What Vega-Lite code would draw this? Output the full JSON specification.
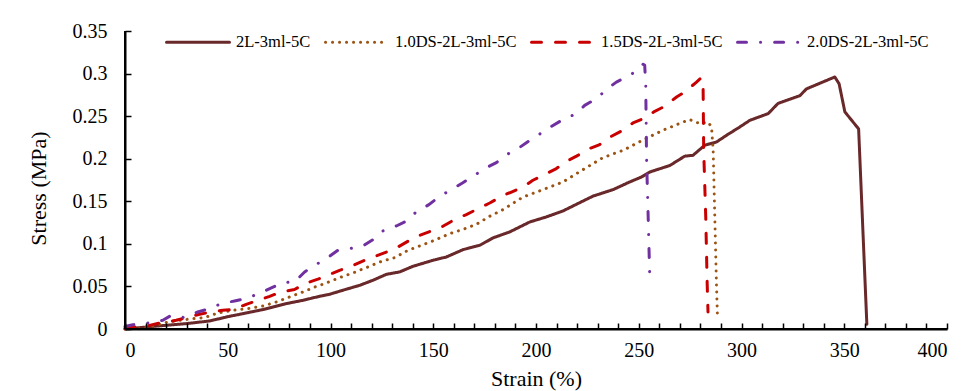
{
  "$schema": "https://vega.github.io/schema/vega-lite/v6.json",
  "autosize": "none",
  "width": 822,
  "height": 298,
  "padding": {"left": 125, "top": 31, "right": 24, "bottom": 62},
  "background": "white",
  "datasets": {
    "curves": [
      {"s": "2L-3ml-5C", "x": 0, "y": 0},
      {"s": "2L-3ml-5C", "x": 13.5, "y": 0.003},
      {"s": "2L-3ml-5C", "x": 29.8, "y": 0.0063},
      {"s": "2L-3ml-5C", "x": 41.1, "y": 0.0094},
      {"s": "2L-3ml-5C", "x": 50.9, "y": 0.0149},
      {"s": "2L-3ml-5C", "x": 59, "y": 0.0188},
      {"s": "2L-3ml-5C", "x": 67.1, "y": 0.0228},
      {"s": "2L-3ml-5C", "x": 78.5, "y": 0.0298},
      {"s": "2L-3ml-5C", "x": 86.6, "y": 0.0337},
      {"s": "2L-3ml-5C", "x": 94.7, "y": 0.0384},
      {"s": "2L-3ml-5C", "x": 99.6, "y": 0.0408},
      {"s": "2L-3ml-5C", "x": 106, "y": 0.0455},
      {"s": "2L-3ml-5C", "x": 114.2, "y": 0.0513},
      {"s": "2L-3ml-5C", "x": 120.6, "y": 0.0572},
      {"s": "2L-3ml-5C", "x": 127.2, "y": 0.0642},
      {"s": "2L-3ml-5C", "x": 133.6, "y": 0.067},
      {"s": "2L-3ml-5C", "x": 140.1, "y": 0.0736},
      {"s": "2L-3ml-5C", "x": 149.9, "y": 0.0807},
      {"s": "2L-3ml-5C", "x": 156.4, "y": 0.0846},
      {"s": "2L-3ml-5C", "x": 164.5, "y": 0.0932},
      {"s": "2L-3ml-5C", "x": 172.6, "y": 0.0983},
      {"s": "2L-3ml-5C", "x": 179.1, "y": 0.107},
      {"s": "2L-3ml-5C", "x": 187.2, "y": 0.114},
      {"s": "2L-3ml-5C", "x": 197, "y": 0.1257},
      {"s": "2L-3ml-5C", "x": 205, "y": 0.1316},
      {"s": "2L-3ml-5C", "x": 213.1, "y": 0.1386},
      {"s": "2L-3ml-5C", "x": 219.7, "y": 0.1465},
      {"s": "2L-3ml-5C", "x": 227.7, "y": 0.156},
      {"s": "2L-3ml-5C", "x": 237.5, "y": 0.1637},
      {"s": "2L-3ml-5C", "x": 245.6, "y": 0.1727},
      {"s": "2L-3ml-5C", "x": 251.3, "y": 0.1785},
      {"s": "2L-3ml-5C", "x": 255.4, "y": 0.1844},
      {"s": "2L-3ml-5C", "x": 265.1, "y": 0.192},
      {"s": "2L-3ml-5C", "x": 272.4, "y": 0.203},
      {"s": "2L-3ml-5C", "x": 276.4, "y": 0.204},
      {"s": "2L-3ml-5C", "x": 282.1, "y": 0.2158},
      {"s": "2L-3ml-5C", "x": 287.8, "y": 0.2196},
      {"s": "2L-3ml-5C", "x": 292.7, "y": 0.2275},
      {"s": "2L-3ml-5C", "x": 299.2, "y": 0.2373},
      {"s": "2L-3ml-5C", "x": 304, "y": 0.245},
      {"s": "2L-3ml-5C", "x": 313, "y": 0.253},
      {"s": "2L-3ml-5C", "x": 317.8, "y": 0.265},
      {"s": "2L-3ml-5C", "x": 328.4, "y": 0.274},
      {"s": "2L-3ml-5C", "x": 331.6, "y": 0.282},
      {"s": "2L-3ml-5C", "x": 345.4, "y": 0.296},
      {"s": "2L-3ml-5C", "x": 347.5, "y": 0.288},
      {"s": "2L-3ml-5C", "x": 350.3, "y": 0.255},
      {"s": "2L-3ml-5C", "x": 357, "y": 0.235},
      {"s": "2L-3ml-5C", "x": 361, "y": 0.0055},

      {"s": "1.0DS-2L-3ml-5C", "x": 0, "y": 0},
      {"s": "1.0DS-2L-3ml-5C", "x": 8, "y": 0.0005},
      {"s": "1.0DS-2L-3ml-5C", "x": 16.8, "y": 0.0055},
      {"s": "1.0DS-2L-3ml-5C", "x": 20.8, "y": 0.0082},
      {"s": "1.0DS-2L-3ml-5C", "x": 31.4, "y": 0.0117},
      {"s": "1.0DS-2L-3ml-5C", "x": 38.7, "y": 0.0134},
      {"s": "1.0DS-2L-3ml-5C", "x": 45.2, "y": 0.0188},
      {"s": "1.0DS-2L-3ml-5C", "x": 52.5, "y": 0.022},
      {"s": "1.0DS-2L-3ml-5C", "x": 59.8, "y": 0.024},
      {"s": "1.0DS-2L-3ml-5C", "x": 67.1, "y": 0.027},
      {"s": "1.0DS-2L-3ml-5C", "x": 73.6, "y": 0.0317},
      {"s": "1.0DS-2L-3ml-5C", "x": 80.1, "y": 0.0376},
      {"s": "1.0DS-2L-3ml-5C", "x": 86.6, "y": 0.0435},
      {"s": "1.0DS-2L-3ml-5C", "x": 92, "y": 0.049},
      {"s": "1.0DS-2L-3ml-5C", "x": 97.1, "y": 0.0533},
      {"s": "1.0DS-2L-3ml-5C", "x": 104.4, "y": 0.0603},
      {"s": "1.0DS-2L-3ml-5C", "x": 110.9, "y": 0.0658},
      {"s": "1.0DS-2L-3ml-5C", "x": 117.4, "y": 0.0721},
      {"s": "1.0DS-2L-3ml-5C", "x": 123.9, "y": 0.0787},
      {"s": "1.0DS-2L-3ml-5C", "x": 131.2, "y": 0.0838},
      {"s": "1.0DS-2L-3ml-5C", "x": 137.7, "y": 0.0924},
      {"s": "1.0DS-2L-3ml-5C", "x": 144.2, "y": 0.0983},
      {"s": "1.0DS-2L-3ml-5C", "x": 150.7, "y": 0.1042},
      {"s": "1.0DS-2L-3ml-5C", "x": 158, "y": 0.112},
      {"s": "1.0DS-2L-3ml-5C", "x": 164.5, "y": 0.117},
      {"s": "1.0DS-2L-3ml-5C", "x": 171, "y": 0.123},
      {"s": "1.0DS-2L-3ml-5C", "x": 177.5, "y": 0.1324},
      {"s": "1.0DS-2L-3ml-5C", "x": 183.9, "y": 0.1402},
      {"s": "1.0DS-2L-3ml-5C", "x": 193.7, "y": 0.155},
      {"s": "1.0DS-2L-3ml-5C", "x": 203.4, "y": 0.1637},
      {"s": "1.0DS-2L-3ml-5C", "x": 213.1, "y": 0.1727},
      {"s": "1.0DS-2L-3ml-5C", "x": 222.9, "y": 0.1872},
      {"s": "1.0DS-2L-3ml-5C", "x": 232.6, "y": 0.2013},
      {"s": "1.0DS-2L-3ml-5C", "x": 242.4, "y": 0.2099},
      {"s": "1.0DS-2L-3ml-5C", "x": 252.1, "y": 0.222},
      {"s": "1.0DS-2L-3ml-5C", "x": 261.8, "y": 0.2334},
      {"s": "1.0DS-2L-3ml-5C", "x": 271.6, "y": 0.2431},
      {"s": "1.0DS-2L-3ml-5C", "x": 274.8, "y": 0.246},
      {"s": "1.0DS-2L-3ml-5C", "x": 279.7, "y": 0.2412},
      {"s": "1.0DS-2L-3ml-5C", "x": 283.7, "y": 0.2431},
      {"s": "1.0DS-2L-3ml-5C", "x": 285.4, "y": 0.2373},
      {"s": "1.0DS-2L-3ml-5C", "x": 286.2, "y": 0.21},
      {"s": "1.0DS-2L-3ml-5C", "x": 287, "y": 0.1316},
      {"s": "1.0DS-2L-3ml-5C", "x": 287.8, "y": 0.0533},
      {"s": "1.0DS-2L-3ml-5C", "x": 288.3, "y": 0.014},

      {"s": "1.5DS-2L-3ml-5C", "x": 0, "y": 0.001},
      {"s": "1.5DS-2L-3ml-5C", "x": 11.9, "y": 0.0043},
      {"s": "1.5DS-2L-3ml-5C", "x": 16.8, "y": 0.007},
      {"s": "1.5DS-2L-3ml-5C", "x": 24.9, "y": 0.0102},
      {"s": "1.5DS-2L-3ml-5C", "x": 28.1, "y": 0.0122},
      {"s": "1.5DS-2L-3ml-5C", "x": 36.3, "y": 0.0173},
      {"s": "1.5DS-2L-3ml-5C", "x": 39.5, "y": 0.0188},
      {"s": "1.5DS-2L-3ml-5C", "x": 47.6, "y": 0.022},
      {"s": "1.5DS-2L-3ml-5C", "x": 52.5, "y": 0.0228},
      {"s": "1.5DS-2L-3ml-5C", "x": 59, "y": 0.029},
      {"s": "1.5DS-2L-3ml-5C", "x": 63.9, "y": 0.0329},
      {"s": "1.5DS-2L-3ml-5C", "x": 70.4, "y": 0.0384},
      {"s": "1.5DS-2L-3ml-5C", "x": 76, "y": 0.0435},
      {"s": "1.5DS-2L-3ml-5C", "x": 82.5, "y": 0.0463},
      {"s": "1.5DS-2L-3ml-5C", "x": 87.4, "y": 0.0533},
      {"s": "1.5DS-2L-3ml-5C", "x": 93.9, "y": 0.0585},
      {"s": "1.5DS-2L-3ml-5C", "x": 100.5, "y": 0.065},
      {"s": "1.5DS-2L-3ml-5C", "x": 104.4, "y": 0.0689},
      {"s": "1.5DS-2L-3ml-5C", "x": 109.3, "y": 0.0728},
      {"s": "1.5DS-2L-3ml-5C", "x": 116.6, "y": 0.0807},
      {"s": "1.5DS-2L-3ml-5C", "x": 127.2, "y": 0.0904},
      {"s": "1.5DS-2L-3ml-5C", "x": 132.8, "y": 0.0963},
      {"s": "1.5DS-2L-3ml-5C", "x": 138.5, "y": 0.1042},
      {"s": "1.5DS-2L-3ml-5C", "x": 143.4, "y": 0.11},
      {"s": "1.5DS-2L-3ml-5C", "x": 149.9, "y": 0.116},
      {"s": "1.5DS-2L-3ml-5C", "x": 154.7, "y": 0.1206},
      {"s": "1.5DS-2L-3ml-5C", "x": 161.2, "y": 0.1297},
      {"s": "1.5DS-2L-3ml-5C", "x": 166.1, "y": 0.1343},
      {"s": "1.5DS-2L-3ml-5C", "x": 171.8, "y": 0.1414},
      {"s": "1.5DS-2L-3ml-5C", "x": 177.5, "y": 0.148},
      {"s": "1.5DS-2L-3ml-5C", "x": 184, "y": 0.157},
      {"s": "1.5DS-2L-3ml-5C", "x": 187.2, "y": 0.16},
      {"s": "1.5DS-2L-3ml-5C", "x": 193.7, "y": 0.1668},
      {"s": "1.5DS-2L-3ml-5C", "x": 198.5, "y": 0.1747},
      {"s": "1.5DS-2L-3ml-5C", "x": 205, "y": 0.1825},
      {"s": "1.5DS-2L-3ml-5C", "x": 209.9, "y": 0.1884},
      {"s": "1.5DS-2L-3ml-5C", "x": 215.6, "y": 0.198},
      {"s": "1.5DS-2L-3ml-5C", "x": 219.7, "y": 0.203},
      {"s": "1.5DS-2L-3ml-5C", "x": 226.1, "y": 0.212},
      {"s": "1.5DS-2L-3ml-5C", "x": 231, "y": 0.2166},
      {"s": "1.5DS-2L-3ml-5C", "x": 236.7, "y": 0.2263},
      {"s": "1.5DS-2L-3ml-5C", "x": 241.6, "y": 0.2326},
      {"s": "1.5DS-2L-3ml-5C", "x": 247.2, "y": 0.242},
      {"s": "1.5DS-2L-3ml-5C", "x": 252.1, "y": 0.247},
      {"s": "1.5DS-2L-3ml-5C", "x": 257.8, "y": 0.2557},
      {"s": "1.5DS-2L-3ml-5C", "x": 262.7, "y": 0.2616},
      {"s": "1.5DS-2L-3ml-5C", "x": 268.4, "y": 0.2725},
      {"s": "1.5DS-2L-3ml-5C", "x": 272.4, "y": 0.2784},
      {"s": "1.5DS-2L-3ml-5C", "x": 278.1, "y": 0.29},
      {"s": "1.5DS-2L-3ml-5C", "x": 280.5, "y": 0.2953},
      {"s": "1.5DS-2L-3ml-5C", "x": 281.3, "y": 0.288},
      {"s": "1.5DS-2L-3ml-5C", "x": 281.6, "y": 0.21},
      {"s": "1.5DS-2L-3ml-5C", "x": 282.6, "y": 0.1316},
      {"s": "1.5DS-2L-3ml-5C", "x": 283.3, "y": 0.0533},
      {"s": "1.5DS-2L-3ml-5C", "x": 283.7, "y": 0.02},

      {"s": "2.0DS-2L-3ml-5C", "x": 0, "y": 0.003},
      {"s": "2.0DS-2L-3ml-5C", "x": 3.8, "y": 0.005},
      {"s": "2.0DS-2L-3ml-5C", "x": 11.1, "y": 0.007},
      {"s": "2.0DS-2L-3ml-5C", "x": 18.4, "y": 0.0102},
      {"s": "2.0DS-2L-3ml-5C", "x": 22.5, "y": 0.016},
      {"s": "2.0DS-2L-3ml-5C", "x": 29, "y": 0.0134},
      {"s": "2.0DS-2L-3ml-5C", "x": 35.4, "y": 0.02},
      {"s": "2.0DS-2L-3ml-5C", "x": 41.1, "y": 0.024},
      {"s": "2.0DS-2L-3ml-5C", "x": 46.8, "y": 0.0298},
      {"s": "2.0DS-2L-3ml-5C", "x": 53.3, "y": 0.0329},
      {"s": "2.0DS-2L-3ml-5C", "x": 59, "y": 0.0357},
      {"s": "2.0DS-2L-3ml-5C", "x": 65.1, "y": 0.0416},
      {"s": "2.0DS-2L-3ml-5C", "x": 71.2, "y": 0.0482},
      {"s": "2.0DS-2L-3ml-5C", "x": 76.8, "y": 0.0545},
      {"s": "2.0DS-2L-3ml-5C", "x": 82.5, "y": 0.0552},
      {"s": "2.0DS-2L-3ml-5C", "x": 87.4, "y": 0.067},
      {"s": "2.0DS-2L-3ml-5C", "x": 92.3, "y": 0.0748},
      {"s": "2.0DS-2L-3ml-5C", "x": 98, "y": 0.0827},
      {"s": "2.0DS-2L-3ml-5C", "x": 103.6, "y": 0.0924},
      {"s": "2.0DS-2L-3ml-5C", "x": 109.3, "y": 0.0944},
      {"s": "2.0DS-2L-3ml-5C", "x": 115.5, "y": 0.0971},
      {"s": "2.0DS-2L-3ml-5C", "x": 121.5, "y": 0.1062},
      {"s": "2.0DS-2L-3ml-5C", "x": 125.5, "y": 0.1151},
      {"s": "2.0DS-2L-3ml-5C", "x": 132, "y": 0.121},
      {"s": "2.0DS-2L-3ml-5C", "x": 137.7, "y": 0.1277},
      {"s": "2.0DS-2L-3ml-5C", "x": 142.1, "y": 0.1386},
      {"s": "2.0DS-2L-3ml-5C", "x": 147.9, "y": 0.146},
      {"s": "2.0DS-2L-3ml-5C", "x": 153.1, "y": 0.1559},
      {"s": "2.0DS-2L-3ml-5C", "x": 158.3, "y": 0.163},
      {"s": "2.0DS-2L-3ml-5C", "x": 164.2, "y": 0.1715},
      {"s": "2.0DS-2L-3ml-5C", "x": 169.3, "y": 0.1793},
      {"s": "2.0DS-2L-3ml-5C", "x": 175, "y": 0.1884},
      {"s": "2.0DS-2L-3ml-5C", "x": 180.7, "y": 0.1954},
      {"s": "2.0DS-2L-3ml-5C", "x": 186.6, "y": 0.206},
      {"s": "2.0DS-2L-3ml-5C", "x": 191.2, "y": 0.2119},
      {"s": "2.0DS-2L-3ml-5C", "x": 197, "y": 0.2216},
      {"s": "2.0DS-2L-3ml-5C", "x": 202.6, "y": 0.2302},
      {"s": "2.0DS-2L-3ml-5C", "x": 207.5, "y": 0.238},
      {"s": "2.0DS-2L-3ml-5C", "x": 213.1, "y": 0.246},
      {"s": "2.0DS-2L-3ml-5C", "x": 219.7, "y": 0.253},
      {"s": "2.0DS-2L-3ml-5C", "x": 223.7, "y": 0.2627},
      {"s": "2.0DS-2L-3ml-5C", "x": 229.4, "y": 0.2706},
      {"s": "2.0DS-2L-3ml-5C", "x": 234.3, "y": 0.2812},
      {"s": "2.0DS-2L-3ml-5C", "x": 239.1, "y": 0.29},
      {"s": "2.0DS-2L-3ml-5C", "x": 245.1, "y": 0.2972},
      {"s": "2.0DS-2L-3ml-5C", "x": 250.5, "y": 0.3058},
      {"s": "2.0DS-2L-3ml-5C", "x": 252.1, "y": 0.311},
      {"s": "2.0DS-2L-3ml-5C", "x": 252.9, "y": 0.3097},
      {"s": "2.0DS-2L-3ml-5C", "x": 253.4, "y": 0.2862},
      {"s": "2.0DS-2L-3ml-5C", "x": 253.8, "y": 0.2},
      {"s": "2.0DS-2L-3ml-5C", "x": 254.6, "y": 0.13},
      {"s": "2.0DS-2L-3ml-5C", "x": 255.3, "y": 0.066}
    ],
    "frame": [
      {"x": 0, "x2": 400, "y": 0, "y2": 0},
      {"x": 0, "x2": 0, "y": 0, "y2": 0.35}
    ],
    "xticks": [
      {"x": 10}, {"x": 20}, {"x": 30}, {"x": 40}, {"x": 50}, {"x": 60}, {"x": 70}, {"x": 80}, {"x": 90}, {"x": 100},
      {"x": 110}, {"x": 120}, {"x": 130}, {"x": 140}, {"x": 150}, {"x": 160}, {"x": 170}, {"x": 180}, {"x": 190}, {"x": 200},
      {"x": 210}, {"x": 220}, {"x": 230}, {"x": 240}, {"x": 250}, {"x": 260}, {"x": 270}, {"x": 280}, {"x": 290}, {"x": 300},
      {"x": 310}, {"x": 320}, {"x": 330}, {"x": 340}, {"x": 350}, {"x": 360}, {"x": 370}, {"x": 380}, {"x": 390}, {"x": 400}
    ],
    "yticks": [
      {"y": 0.05}, {"y": 0.1}, {"y": 0.15}, {"y": 0.2}, {"y": 0.25}, {"y": 0.3}, {"y": 0.35}
    ]
  },
  "encoding": {
    "x": {
      "field": "x", "type": "quantitative",
      "scale": {"domain": [0, 400], "nice": false, "zero": true},
      "axis": {
        "title": "Strain (%)",
        "zindex": 1,
        "domain": true,
        "domainColor": "black",
        "domainWidth": 2,
        "ticks": true,
        "tickColor": "black",
        "tickWidth": 1.5,
        "tickSize": -6,
        "values": [0,10,20,30,40,50,60,70,80,90,100,110,120,130,140,150,160,170,180,190,200,210,220,230,240,250,260,270,280,290,300,310,320,330,340,350,360,370,380,390,400],
        "labelExpr": "datum.value % 50 === 0 ? datum.label : ''",
        "labelPadding": 17,
        "titlePadding": 8
      }
    },
    "y": {
      "field": "y", "type": "quantitative",
      "scale": {"domain": [0, 0.35], "nice": false},
      "axis": {
        "title": "Stress (MPa)",
        "zindex": 1,
        "domain": true,
        "domainColor": "black",
        "domainWidth": 2,
        "ticks": true,
        "tickColor": "black",
        "tickWidth": 1.5,
        "tickSize": -6,
        "values": [0, 0.05, 0.1, 0.15, 0.2, 0.25, 0.3, 0.35],
        "format": "~g",
        "labelPadding": 24,
        "titlePadding": 22,
        "titleY": 157
      }
    }
  },
  "layer": [
    {
      "data": {"name": "curves"},
      "mark": {"type": "line", "strokeWidth": 3, "strokeCap": "round", "strokeJoin": "round", "clip": false},
      "encoding": {
        "color": {
          "field": "s", "type": "nominal",
          "scale": {
            "domain": ["2L-3ml-5C", "1.0DS-2L-3ml-5C", "1.5DS-2L-3ml-5C", "2.0DS-2L-3ml-5C"],
            "range": ["#69282A", "#9C5414", "#C80000", "#7030A0"]
          },
          "legend": {
            "title": null,
            "orient": "none",
            "legendX": 40,
            "legendY": -22,
            "direction": "horizontal",
            "symbolType": "stroke",
            "symbolSize": 3969,
            "symbolStrokeWidth": 3,
            "labelFont": "Liberation Serif",
            "labelFontSize": 16.5,
            "labelColor": "#000",
            "labelOffset": 5,
            "columnPadding": 8,
            "encode": {"symbols": {"update": {"strokeCap": {"value": "round"}}}}
          }
        },
        "strokeDash": {
          "field": "s", "type": "nominal",
          "scale": {
            "domain": ["2L-3ml-5C", "1.0DS-2L-3ml-5C", "1.5DS-2L-3ml-5C", "2.0DS-2L-3ml-5C"],
            "range": [[1, 0], [0.1, 6.9], [10, 14], [9, 14, 0.1, 14]]
          },
          "legend": {
            "title": null,
            "orient": "none",
            "legendX": 40,
            "legendY": -22,
            "direction": "horizontal",
            "symbolType": "stroke",
            "symbolSize": 3969,
            "symbolStrokeWidth": 3,
            "labelFont": "Liberation Serif",
            "labelFontSize": 16.5,
            "labelColor": "#000",
            "labelOffset": 5,
            "columnPadding": 8,
            "encode": {"symbols": {"update": {"strokeCap": {"value": "round"}}}}
          }
        }
      }
    },
    {
      "data": {"name": "frame"},
      "mark": {"type": "rule", "color": "black", "strokeWidth": 2, "clip": false},
      "encoding": {
        "x2": {"field": "x2"},
        "y2": {"field": "y2"}
      }
    },
    {
      "data": {"name": "xticks"},
      "mark": {"type": "tick", "orient": "vertical", "size": 6, "thickness": 1.5, "color": "black", "opacity": 1, "yOffset": -3, "clip": false},
      "encoding": {
        "y": {"datum": 0, "type": "quantitative"}
      }
    },
    {
      "data": {"name": "yticks"},
      "mark": {"type": "tick", "orient": "horizontal", "size": 6, "thickness": 1.5, "color": "black", "opacity": 1, "xOffset": 3, "clip": false},
      "encoding": {
        "x": {"datum": 0, "type": "quantitative"}
      }
    }
  ],
  "config": {
    "font": "Liberation Serif",
    "view": {"stroke": null},
    "axis": {
      "grid": false,
      "labelFont": "Liberation Serif",
      "labelFontSize": 20,
      "labelColor": "#000",
      "titleFont": "Liberation Serif",
      "titleFontSize": 22,
      "titleFontWeight": "normal",
      "titleColor": "#000"
    }
  }
}
